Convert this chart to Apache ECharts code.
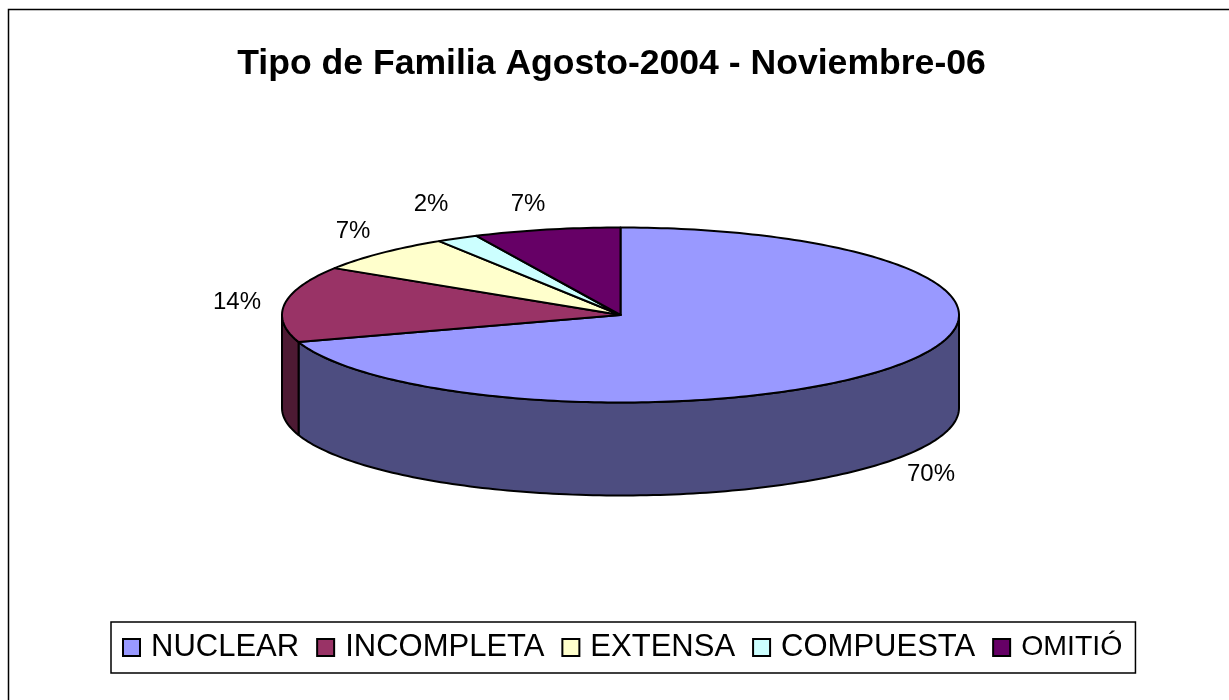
<!DOCTYPE html>
<html>
<head>
<meta charset="utf-8">
<style>
  html, body { margin: 0; padding: 0; background: #fff; }
  #main { width: 1229px; height: 700px; }
</style>
<script src="https://cdn.jsdelivr.net/npm/echarts@6/dist/echarts.min.js"></script>
</head>
<body>
<div id="main"></div>
<script>
  var categories = ['NUCLEAR', 'INCOMPLETA', 'EXTENSA', 'COMPUESTA', 'OMITIÓ'];
  var values = [70, 14, 7, 2, 7];
  var colors = ['#9999FF', '#993366', '#FFFFCC', '#CCFFFF', '#660066'];
  var sideColors = ['#4D4D80', '#4D1A33', '#808066', '#668080', '#330033'];

  // 3D pie geometry
  var cx = 620.5, cy = 315, rx = 338.5, ry = 87.5, depth = 93;
  var total = values.reduce(function (a, b) { return a + b; }, 0);

  function pt(t, dy) {
    return [cx + rx * Math.sin(t), cy - ry * Math.cos(t) + (dy || 0)];
  }

  function arc(t0, t1, dy) {
    var pts = [];
    var n = Math.max(2, Math.ceil((t1 - t0) / 0.02));
    for (var i = 0; i <= n; i++) {
      pts.push(pt(t0 + (t1 - t0) * i / n, dy));
    }
    return pts;
  }

  function renderSlice(index) {
    return function (params, api) {
      var start = 0;
      for (var i = 0; i < index; i++) start += values[i];
      var v = api.value(0);
      var t0 = start / total * Math.PI * 2;
      var t1 = (start + v) / total * Math.PI * 2;
      var children = [];
      // lateral visible solo en la mitad frontal
      var s0 = Math.max(t0, Math.PI / 2);
      var s1 = Math.min(t1, Math.PI * 1.5);
      if (s1 > s0) {
        children.push({
          type: 'polygon',
          shape: { points: arc(s0, s1, 0).concat(arc(s0, s1, depth).reverse()) },
          style: { fill: sideColors[index], stroke: '#000', lineWidth: 2, lineJoin: 'round' }
        });
      }
      children.push({
        type: 'polygon',
        shape: { points: [[cx, cy]].concat(arc(t0, t1, 0)) },
        style: { fill: colors[index], stroke: '#000', lineWidth: 2, lineJoin: 'round' }
      });
      return { type: 'group', children: children };
    };
  }

  var labelPos = [[931, 474], [237, 302], [353, 231], [431, 204], [528, 204]];

  var myChart = echarts.init(document.getElementById('main'), null, { renderer: 'canvas' });

  var option = {
    animation: false,
    title: {
      text: 'Tipo de Familia Agosto-2004 - Noviembre-06',
      left: 606.5,
      textAlign: 'center',
      top: 41,
      textStyle: { fontFamily: 'Liberation Sans', fontSize: 35.6, fontWeight: 'bold', color: '#000' }
    },
    legend: {
      left: 111,
      top: 622,
      padding: [10, 13, 10, 11],
      itemGap: 17,
      itemWidth: 17,
      itemHeight: 17,
      icon: 'rect',
      borderColor: '#000',
      borderWidth: 1.5,
      backgroundColor: '#fff',
      data: categories.map(function (name) {
        // OMITIÓ sale más apretado en el original
        return name === 'OMITIÓ' ? { name: name, textStyle: { fontSize: 28.5 } } : { name: name };
      }),
      itemStyle: { borderColor: '#000', borderWidth: 2 },
      textStyle: { fontFamily: 'Liberation Sans', fontSize: 31, color: '#000', padding: [0, 0, 0, 6] }
    },
    graphic: [{
      // el marco solo asoma arriba y a la izquierda
      type: 'rect',
      shape: { x: 8.5, y: 9.5, width: 1300, height: 800 },
      style: { fill: 'none', stroke: '#000', lineWidth: 1.5 },
      silent: true
    }].concat(values.map(function (v, i) {
      return {
        type: 'text',
        x: labelPos[i][0],
        y: labelPos[i][1],
        style: {
          text: Math.round(v / total * 100) + '%',
          fontFamily: 'Liberation Sans',
          fontSize: 24,
          fill: '#000',
          align: 'center',
          verticalAlign: 'middle'
        }
      };
    })),
    series: categories.map(function (name, i) {
      return {
        name: name,
        type: 'custom',
        coordinateSystem: 'none',
        itemStyle: { color: colors[i] },
        renderItem: renderSlice(i),
        data: [[values[i]]]
      };
    })
  };

  myChart.setOption(option);
</script>
</body>
</html>
